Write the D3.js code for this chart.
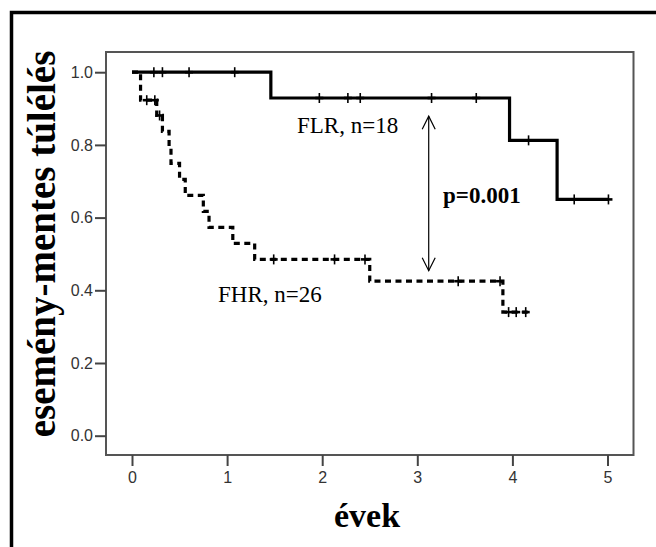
<!DOCTYPE html>
<html>
<head>
<meta charset="utf-8">
<script src="https://cdn.jsdelivr.net/npm/d3@7"></script>
<style>
  html, body { margin: 0; padding: 0; background: #fff; }
  svg { display: block; }
</style>
</head>
<body>
<svg id="chart" width="656" height="547"></svg>
<script>
// Kaplan–Meier curves: event times and survival level after each step
const flrTimes = [0, 1.46, 3.97, 4.47];
const flrSurv  = [1.0, 0.929, 0.8125, 0.65];
const flrEnd   = 5.01;
const flrCensTimes = [0.23, 0.32, 0.60, 1.08, 1.97, 2.27, 2.40, 3.15, 3.62, 4.17, 4.65, 5.01];

const fhrTimes = [0, 0.09, 0.26, 0.32, 0.39, 0.41, 0.50, 0.56, 0.75, 0.81, 1.06, 1.29, 2.50, 3.90];
const fhrSurv  = [1.0, 0.923, 0.881, 0.837, 0.793, 0.749, 0.705, 0.661, 0.617, 0.573, 0.529, 0.485, 0.425, 0.340];
const fhrEnd   = 4.16;
const fhrCensTimes = [0.155, 0.24, 0.29, 1.49, 2.13, 2.45, 3.43, 3.87, 3.96, 4.04, 4.14];

const xTicks = [0, 1, 2, 3, 4, 5];
const yTicks = [0.0, 0.2, 0.4, 0.6, 0.8, 1.0];

const groupLabels = ["FLR, n=18", "FHR, n=26"];
const pLabel = "p=0.001";
const xTitle = "évek";
const yTitle = "esemény-mentes túlélés";

// comparison arrow between the two curves (time, upper and lower level)
const arrowTime = 3.12;
const arrowRange = [0.879, 0.454];

const svg = d3.select("#chart");
const serif = "'Liberation Serif', 'Times New Roman', serif";

const x = d3.scaleLinear().domain([0, 5]).range([132, 607.5]);
const y = d3.scaleLinear().domain([0, 1]).range([435.7, 72.2]);

const box = { left: 106, right: 633.5, top: 52, bottom: 455 };

// outer frame (left and top edges in view)
svg.append("path")
  .attr("d", `M11.5,${547 + 10} V12.5 H${656 + 10}`)
  .attr("fill", "none").attr("stroke", "#000").attr("stroke-width", 3.5);

// plot box
svg.append("rect")
  .attr("x", box.left).attr("y", box.top)
  .attr("width", box.right - box.left).attr("height", box.bottom - box.top)
  .attr("fill", "none").attr("stroke", "#555").attr("stroke-width", 2);

// axes
const yAxis = svg.append("g")
  .attr("transform", `translate(${box.left},0)`)
  .call(d3.axisLeft(y).tickValues(yTicks).tickSize(11).tickPadding(2).tickFormat(d3.format(".1f")));
const xAxis = svg.append("g")
  .attr("transform", `translate(0,${box.bottom})`)
  .call(d3.axisBottom(x).tickValues(xTicks).tickSize(11).tickPadding(6).tickFormat(d3.format("d")));

[yAxis, xAxis].forEach(g => {
  g.select(".domain").remove();
  g.selectAll(".tick line").attr("stroke", "#444").attr("stroke-width", 2);
  g.selectAll(".tick text")
    .attr("fill", "#333")
    .style("font-family", "'Liberation Sans', Arial, sans-serif")
    .style("font-size", "16px");
});

// step curves
const stepLine = d3.line()
  .x(d => x(d[0]))
  .y(d => y(d[1]))
  .curve(d3.curveStepAfter);

function curvePoints(times, surv, end) {
  const pts = times.map((t, i) => [t, surv[i]]);
  pts.push([end, surv[surv.length - 1]]);
  return pts;
}
function survAt(times, surv, t) {
  let s = surv[0];
  for (let i = 0; i < times.length; i++) if (times[i] <= t) s = surv[i];
  return s;
}

svg.append("path")
  .datum(curvePoints(fhrTimes, fhrSurv, fhrEnd))
  .attr("d", stepLine)
  .attr("fill", "none").attr("stroke", "#000")
  .attr("stroke-width", 3.2).attr("stroke-dasharray", "6,4.5");

svg.append("path")
  .datum(curvePoints(flrTimes, flrSurv, flrEnd))
  .attr("d", stepLine)
  .attr("fill", "none").attr("stroke", "#000")
  .attr("stroke-width", 3.2).attr("stroke-linejoin", "miter");

// censoring marks
function censorMarks(times, surv, censTimes, cls) {
  const g = svg.append("g").attr("class", cls);
  censTimes.forEach(t => {
    const cx = x(t), cy = y(survAt(times, surv, t));
    g.append("line").attr("x1", cx).attr("x2", cx).attr("y1", cy - 5).attr("y2", cy + 5)
      .attr("stroke", "#000").attr("stroke-width", 1.6);
    g.append("line").attr("x1", cx - 4).attr("x2", cx + 4).attr("y1", cy).attr("y2", cy)
      .attr("stroke", "#000").attr("stroke-width", 2.6);
  });
}
censorMarks(flrTimes, flrSurv, flrCensTimes, "flr-censor");
censorMarks(fhrTimes, fhrSurv, fhrCensTimes, "fhr-censor");

// double-headed arrow
const ax = x(arrowTime), ay1 = y(arrowRange[0]), ay2 = y(arrowRange[1]);
const arrowG = svg.append("g").attr("fill", "none").attr("stroke", "#000").attr("stroke-width", 1.2);
arrowG.append("line").attr("x1", ax).attr("x2", ax).attr("y1", ay1).attr("y2", ay2);
arrowG.append("path").attr("d", `M${ax - 6.5},${ay1 + 13} L${ax},${ay1} L${ax + 6.5},${ay1 + 13}`);
arrowG.append("path").attr("d", `M${ax - 6.5},${ay2 - 13} L${ax},${ay2} L${ax + 6.5},${ay2 - 13}`);

// annotations
svg.append("text")
  .attr("x", 297).attr("y", 133)
  .style("font-family", serif).style("font-size", "23px")
  .text(groupLabels[0]);
svg.append("text")
  .attr("x", 218).attr("y", 302)
  .style("font-family", serif).style("font-size", "23px")
  .text(groupLabels[1]);
svg.append("text")
  .attr("x", 443).attr("y", 203)
  .style("font-family", serif).style("font-size", "23px").style("font-weight", "bold")
  .text(pLabel);

// axis titles
svg.append("text")
  .attr("x", 367).attr("y", 527)
  .attr("text-anchor", "middle")
  .style("font-family", serif).style("font-size", "34px").style("font-weight", "bold")
  .text(xTitle);
svg.append("text")
  .attr("transform", "translate(55,244) rotate(-90)")
  .attr("text-anchor", "middle")
  .style("font-family", serif).style("font-size", "39px").style("font-weight", "bold")
  .text(yTitle);
</script>
</body>
</html>
